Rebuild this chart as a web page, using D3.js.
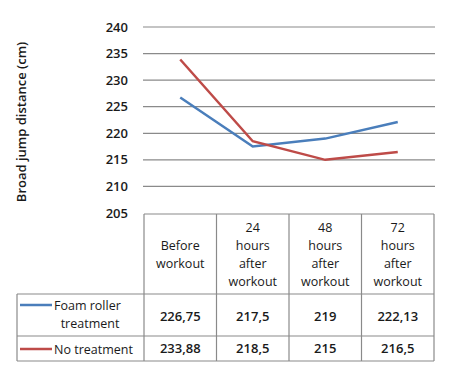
<html>
<head>
<script src="https://cdnjs.cloudflare.com/ajax/libs/d3/7.8.5/d3.min.js"></script>
<style>
body { margin: 0; background: #fff; }
text { font-family: "Open Sans", sans-serif; fill: #1a1a1a; }
</style>
</head>
<body>
<svg id="chart" width="450" height="382"></svg>
<script>
var categories = [
    ['Before', 'workout'],
    ['24', 'hours', 'after', 'workout'],
    ['48', 'hours', 'after', 'workout'],
    ['72', 'hours', 'after', 'workout']
];
var foamValues = [226.75, 217.5, 219, 222.13];
var foamLabels = ['226,75', '217,5', '219', '222,13'];
var noValues = [233.88, 218.5, 215, 216.5];
var noLabels = ['233,88', '218,5', '215', '216,5'];
var yTicks = [205, 210, 215, 220, 225, 230, 235, 240];

var svg = d3.select('#chart');
var x = d3.scaleBand().domain(d3.range(categories.length)).range([144, 434]);
var y = d3.scaleLinear().domain([205, 240]).range([213, 27]);
var grid = '#8a8a8a';

// gridlines
svg.selectAll('line.grid')
    .data(yTicks.filter(function (d) { return d > 205; }))
    .enter().append('line')
    .attr('x1', 143).attr('x2', 435)
    .attr('y1', function (d) { return y(d); })
    .attr('y2', function (d) { return y(d); })
    .attr('stroke', grid).attr('stroke-width', 1.2);

svg.selectAll('text.ytick')
    .data(yTicks)
    .enter().append('text')
    .attr('x', 128)
    .attr('y', function (d) { return y(d) + 4.5; })
    .attr('text-anchor', 'end')
    .style('font-size', '13px').style('font-weight', 600)
    .text(function (d) { return d; });

svg.append('text')
    .attr('transform', 'translate(26 122) rotate(-90)')
    .attr('text-anchor', 'middle')
    .style('font-size', '13px').style('font-weight', 600)
    .text('Broad jump distance (cm)');

// lines
var line = d3.line()
    .x(function (d, i) { return x(i) + x.bandwidth() / 2; })
    .y(function (d) { return y(d); });

svg.append('path').datum(foamValues)
    .attr('d', line).attr('fill', 'none')
    .attr('stroke', '#4A7EBB').attr('stroke-width', 2.5);
svg.append('path').datum(noValues)
    .attr('d', line).attr('fill', 'none')
    .attr('stroke', '#BE4B48').attr('stroke-width', 2.5);

// table
var rowY = [214, 294, 336, 361];
svg.append('line').attr('x1', 144).attr('x2', 434).attr('y1', 214).attr('y2', 214)
    .attr('stroke', grid).attr('stroke-width', 1.2);
rowY.slice(1).forEach(function (ry) {
    svg.append('line').attr('x1', 17).attr('x2', 434).attr('y1', ry).attr('y2', ry)
        .attr('stroke', grid).attr('stroke-width', 1.2);
});
svg.append('line').attr('x1', 17).attr('x2', 17).attr('y1', 294).attr('y2', 361)
    .attr('stroke', grid).attr('stroke-width', 1.2);
d3.range(categories.length + 1).forEach(function (i) {
    var xx = i < categories.length ? x(i) : x.range()[1];
    svg.append('line').attr('x1', xx).attr('x2', xx).attr('y1', 214).attr('y2', 361)
        .attr('stroke', grid).attr('stroke-width', 1.2);
});

categories.forEach(function (lines, i) {
    var cx = x(i) + x.bandwidth() / 2;
    var start = 254 - (lines.length - 1) * 18 / 2 + 4.5;
    lines.forEach(function (t, j) {
        svg.append('text').attr('x', cx).attr('y', start + j * 18)
            .attr('text-anchor', 'middle').style('font-size', '12.5px').text(t);
    });
});

foamLabels.forEach(function (t, i) {
    svg.append('text').attr('x', x(i) + x.bandwidth() / 2).attr('y', 320.5)
        .attr('text-anchor', 'middle').style('font-size', '13px').style('font-weight', 600).text(t);
});
noLabels.forEach(function (t, i) {
    svg.append('text').attr('x', x(i) + x.bandwidth() / 2).attr('y', 353)
        .attr('text-anchor', 'middle').style('font-size', '13px').style('font-weight', 600).text(t);
});

// legend cells
svg.append('line').attr('x1', 20).attr('x2', 52).attr('y1', 305).attr('y2', 305)
    .attr('stroke', '#4A7EBB').attr('stroke-width', 2.5);
svg.append('text').attr('x', 54).attr('y', 309.5).style('font-size', '12.5px').text('Foam roller');
svg.append('text').attr('x', 90).attr('y', 327.5).attr('text-anchor', 'middle').style('font-size', '12.5px').text('treatment');
svg.append('line').attr('x1', 20).attr('x2', 52).attr('y1', 349).attr('y2', 349)
    .attr('stroke', '#BE4B48').attr('stroke-width', 2.5);
svg.append('text').attr('x', 54).attr('y', 353.5).style('font-size', '12.5px').text('No treatment');
</script>
</body>
</html>
